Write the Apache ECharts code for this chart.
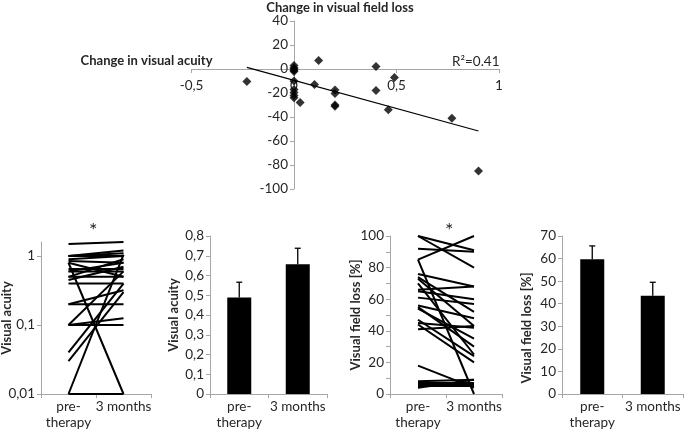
<!DOCTYPE html>
<html><head><meta charset="utf-8">
<script src="https://cdn.jsdelivr.net/npm/echarts@6/dist/echarts.min.js"></script>
<style>html,body{margin:0;padding:0;background:#fff}#c{width:685px;height:429px}</style>
</head><body><div id="c"></div>
<script>
const FONT = "Lato, 'Open Sans', sans-serif";
// Top: change in visual acuity vs change in visual field loss
const dAcuity = [-0.23, 0.12, 0.40, 0.49, 0.10, 0.40, 0.20, 0.20, 0.20, 0.20, 0.46, 0.77, 0.90, 0.03, 0, 0, 0, 0, 0, 0, 0, 0, 0, 0];
const dField  = [-10.5, 7, 2, -7, -13, -18, -17.5, -20.5, -30, -31, -34, -41, -85, -28, 3, 1, 0, -1, -2, -10, -17, -19.5, -22, -24];
const trendAcuity = [-0.23, 0.90];
const trendField = [1.4, -51.7];
const r2Text = 'R\u00b2=0.41';

// Bottom panels
const groups = ['pre-\ntherapy', '3 months'];
const vaPre  = [1.5, 1.0, 1.0, 1.0, 0.9, 0.8, 0.01, 0.01, 0.85, 0.8, 0.65, 0.6, 0.6, 0.5, 0.5, 0.45, 0.4, 0.2, 0.2, 0.1, 0.1, 0.1, 0.04, 0.03];
const vaPost = [1.6, 1.2, 1.0, 1.1, 1.0, 0.01, 1.05, 0.01, 0.8, 0.5, 0.65, 0.8, 0.6, 0.9, 0.5, 0.7, 0.4, 0.2, 0.32, 0.1, 0.125, 0.6, 0.4, 0.3];
const vaMean = [0.488, 0.657];
const vaErr  = [0.078, 0.081];
const vfPre  = [100, 100, 92, 85, 85, 76, 74, 73, 70, 66, 65, 61, 56, 55, 54, 47, 45, 44, 41, 18, 8, 7, 6, 5, 4];
const vfPost = [91, 80, 90, 100, 0, 68, 52, 43, 25, 68, 60, 57, 48, 30, 35, 24, 42, 20, 43, 4, 9, 7, 6, 5, 9];
const vfMean = [59.7, 43.5];
const vfErr  = [5.9, 6.0];

const AX = '#a6a6a6', TX = '#262626';
const LBL = 13.5, NAME = 13;
const comma = v => String(+(+v).toPrecision(6)).replace('.', ',');

function catAxis(i) {
  return {
    type: 'category', gridIndex: i, data: groups,
    axisLine: {lineStyle: {color: AX, width: 1}},
    axisTick: {show: true, length: 4, lineStyle: {color: AX}},
    axisLabel: {color: TX, fontFamily: FONT, fontSize: LBL, lineHeight: 16, margin: 5, interval: 0, align: 'center'},
    splitLine: {show: false}
  };
}
function valAxisStyle(name, gap, pad) {
  return {
    name: name, nameLocation: 'middle', nameRotate: 90, nameGap: gap, nameMoveOverlap: false,
    nameTextStyle: {color: TX, fontFamily: FONT, fontSize: NAME, fontWeight: 'bold', padding: pad || 0},
    axisLine: {show: true, lineStyle: {color: AX, width: 1}},
    axisTick: {show: true, length: 4, lineStyle: {color: AX}},
    axisLabel: {color: TX, fontFamily: FONT, fontSize: LBL, margin: 6, formatter: comma},
    splitLine: {show: false}
  };
}

function errSeries(xi, yi, mean, err) {
  return {
    type: 'custom', xAxisIndex: xi, yAxisIndex: yi, z: 5,
    data: mean.map((m, k) => [k, m, err[k]]),
    encode: {x: 0, y: 1},
    renderItem: (params, api) => {
      const x = api.value(0), m = api.value(1), e = api.value(2);
      const p0 = api.coord([x, m]);
      const p1 = api.coord([x, m + e]);
      const st = {stroke: '#000', lineWidth: 1.3};
      return {type: 'group', children: [
        {type: 'line', shape: {x1: p0[0], y1: p0[1], x2: p1[0], y2: p1[1]}, style: st},
        {type: 'line', shape: {x1: p1[0] - 3, y1: p1[1], x2: p1[0] + 3, y2: p1[1]}, style: st}
      ]};
    }
  };
}

const series = [];
series.push({
  type: 'scatter', xAxisIndex: 0, yAxisIndex: 0, symbol: 'diamond', symbolSize: 9,
  itemStyle: {color: '#000'}, data: dAcuity.map((x, i) => [x, dField[i]]), z: 4
});
series.push({
  type: 'line', xAxisIndex: 0, yAxisIndex: 0, symbol: 'none',
  lineStyle: {color: '#000', width: 1.2}, data: trendAcuity.map((x, i) => [x, trendField[i]]), z: 3
});
vaPre.forEach((p, i) => series.push({
  type: 'line', xAxisIndex: 1, yAxisIndex: 1, symbol: 'none',
  lineStyle: {color: '#000', width: 2}, data: [p, vaPost[i]]
}));
series.push({type: 'bar', xAxisIndex: 2, yAxisIndex: 2, barWidth: 24, itemStyle: {color: '#000'}, data: vaMean});
series.push(errSeries(2, 2, vaMean, vaErr));
vfPre.forEach((p, i) => series.push({
  type: 'line', xAxisIndex: 3, yAxisIndex: 3, symbol: 'none',
  lineStyle: {color: '#000', width: 2}, data: [p, vfPost[i]]
}));
series.push({type: 'bar', xAxisIndex: 4, yAxisIndex: 4, barWidth: 24, itemStyle: {color: '#000'}, data: vfMean});
series.push(errSeries(4, 4, vfMean, vfErr));

const G = {containLabel: false, outerBoundsMode: 'none'};
const option = {
  animation: false,
  backgroundColor: '#fff',
  textStyle: {fontFamily: FONT},
  grid: [
    Object.assign({left: 191.5, top: 21, width: 307.5, height: 168}, G),
    Object.assign({left: 41, top: 242, width: 110, height: 152}, G),
    Object.assign({left: 210, top: 236, width: 117, height: 158}, G),
    Object.assign({left: 390, top: 236, width: 112, height: 158}, G),
    Object.assign({left: 562, top: 236, width: 121, height: 158}, G)
  ],
  xAxis: [
    {
      type: 'value', gridIndex: 0, min: -0.5, max: 1, interval: 0.5,
      offset: -120,
      name: 'Change in visual acuity', nameLocation: 'start', nameGap: -21, nameMoveOverlap: false,
      nameTextStyle: {color: TX, fontFamily: FONT, fontSize: NAME, fontWeight: 'bold', verticalAlign: 'bottom', padding: [0, 0, 2, 0]},
      axisLine: {onZero: false, lineStyle: {color: AX}},
      axisTick: {show: true, length: 4, lineStyle: {color: AX}},
      axisLabel: {color: TX, fontFamily: FONT, fontSize: LBL, margin: 10, formatter: comma},
      splitLine: {show: false}
    },
    catAxis(1), catAxis(2), catAxis(3), catAxis(4)
  ],
  yAxis: [
    {
      type: 'value', gridIndex: 0, min: -100, max: 40, interval: 20,
      offset: -102.5,
      name: 'Change in visual field loss', nameLocation: 'end', nameGap: 7, nameMoveOverlap: false,
      nameTextStyle: {color: TX, fontFamily: FONT, fontSize: NAME, fontWeight: 'bold', padding: [0, 0, 0, 92]},
      axisLine: {onZero: false, lineStyle: {color: AX}},
      axisTick: {show: true, length: 4, lineStyle: {color: AX}},
      axisLabel: {color: TX, fontFamily: FONT, fontSize: LBL, margin: 6, formatter: comma},
      splitLine: {show: false}
    },
    Object.assign(valAxisStyle('Visual acuity', 28), {type: 'log', logBase: 10, gridIndex: 1, min: 0.01, max: 1.6,
      axisLabel: {color: TX, fontFamily: FONT, fontSize: LBL, margin: 6, showMaxLabel: false,
        formatter: v => { const l = Math.log10(v); return Math.abs(l - Math.round(l)) < 1e-6 ? comma(v) : ''; }}}),
    Object.assign(valAxisStyle('Visual acuity', 30), {type: 'value', gridIndex: 2, min: 0, max: 0.8, interval: 0.1}),
    Object.assign(valAxisStyle('Visual field loss [%]', 28), {type: 'value', gridIndex: 3, min: 0, max: 100, interval: 20,
      minorTick: {show: true, splitNumber: 2, length: 4, lineStyle: {color: AX}}}),
    Object.assign(valAxisStyle('Visual field loss [%]', 29, [0, 26, 0, 0]), {type: 'value', gridIndex: 4, min: 0, max: 70, interval: 10})
  ],
  graphic: [
    {type: 'text', left: 452, top: 55, style: {text: r2Text, fill: TX, font: LBL + 'px ' + FONT}},
    {type: 'text', left: 89, top: 221, style: {text: '*', fill: TX, font: '20px ' + FONT}},
    {type: 'text', left: 445, top: 221, style: {text: '*', fill: TX, font: '20px ' + FONT}}
  ],
  series: series
};
const chart = echarts.init(document.getElementById('c'), null, {renderer: 'canvas'});
chart.setOption(option);
</script></body></html>
